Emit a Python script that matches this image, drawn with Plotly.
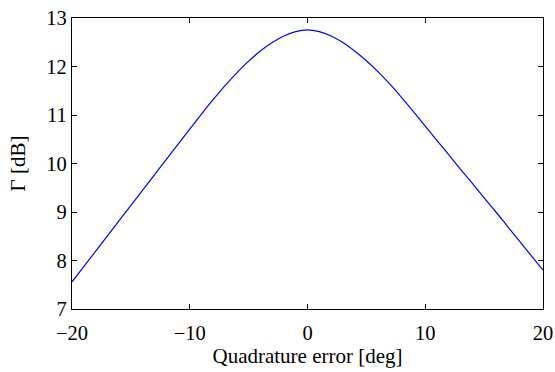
import plotly.graph_objects as go

quad_error_deg = [-20, -19, -18, -17, -16, -15, -14, -13, -12, -11, -10,
                  -9, -8, -7, -6, -5, -4, -3, -2, -1, 0,
                  1, 2, 3, 4, 5, 6, 7, 8, 9, 10,
                  11, 12, 13, 14, 15, 16, 17, 18, 19, 20]
gamma_db = [7.56, 7.875, 8.19, 8.505, 8.82, 9.135, 9.45, 9.765, 10.08, 10.395, 10.71,
            11.02, 11.32, 11.605, 11.87, 12.11, 12.32, 12.495, 12.63, 12.72, 12.755,
            12.72, 12.63, 12.495, 12.32, 12.12, 11.89, 11.635, 11.36, 11.07, 10.77,
            10.47, 10.18, 9.88, 9.59, 9.29, 9.00, 8.70, 8.40, 8.10, 7.80]

x_ticks = [-20, -10, 0, 10, 20]
y_ticks = [7, 8, 9, 10, 11, 12, 13]

font_family = "Liberation Serif"

fig = go.Figure()
fig.add_trace(go.Scatter(
    x=quad_error_deg, y=gamma_db, mode="lines",
    line=dict(color="#0000ff", width=1.2, shape="spline", smoothing=1.0),
    showlegend=False,
))

axis_common = dict(
    showgrid=False, zeroline=False, automargin=False,
    showline=True, linecolor="black", linewidth=1.2,
    mirror="ticks", ticks="inside", ticklen=5, tickwidth=1, tickcolor="black",
    tickfont=dict(family=font_family, size=20.5, color="black"),
)

fig.update_xaxes(
    range=[-20, 20], tickvals=x_ticks, ticklabelstandoff=5,
    title=dict(text="Quadrature error [deg]", font=dict(family=font_family, size=21, color="black"), standoff=2),
    **axis_common,
)
fig.update_yaxes(
    range=[7, 13], tickvals=y_ticks,
    title=dict(text="Γ [dB]", font=dict(family=font_family, size=21, color="black"), standoff=14),
    **axis_common,
)

fig.update_layout(
    width=555, height=372,
    margin=dict(l=72, r=12, t=18, b=63),
    paper_bgcolor="white", plot_bgcolor="white",
    font=dict(family=font_family, color="black"),
)

fig.write_html("out.html")
